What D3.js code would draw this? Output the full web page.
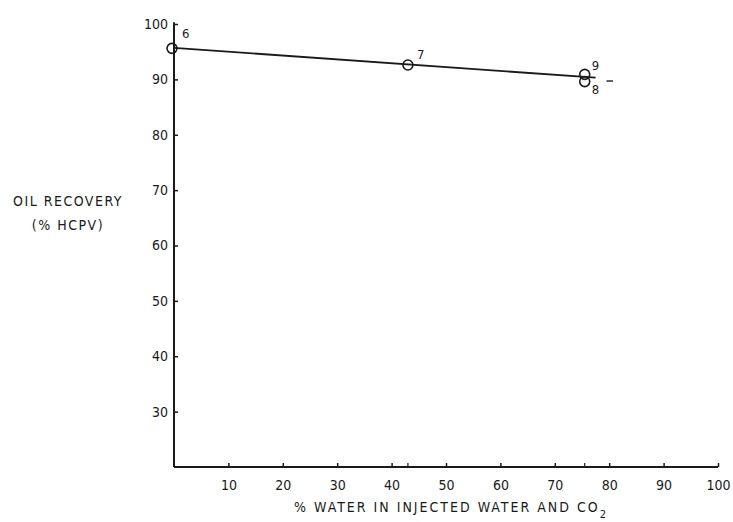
<!DOCTYPE html>
<html>
<head>
<meta charset="utf-8">
<script src="https://cdn.jsdelivr.net/npm/d3@7"></script>
<style>
  body { margin: 0; background: #fff; }
  svg text { font-family: "DejaVu Sans Condensed", "DejaVu Sans", sans-serif; fill: #1a1a1a; }
</style>
</head>
<body>
<div id="chart"></div>
<script>
// run data
const runIds = ['6', '7', '9', '8'];
const waterPct = [0, 43, 75.5, 75.5];
const oilRecovery = [95.6, 92.6, 90.9, 89.6];

// fitted trend line end points
const trendX = [0, 77.5];
const trendY = [95.7, 90.3];

const xTicks = [10, 20, 30, 40, 50, 60, 70, 80, 90, 100];
const yTicks = [30, 40, 50, 60, 70, 80, 90, 100];

const width = 733, height = 522;
const margin = { left: 174, right: 15, top: 24, bottom: 55 };

const svg = d3.select('#chart').append('svg')
    .attr('width', width)
    .attr('height', height);

const x = d3.scaleLinear().domain([0, 100]).range([margin.left, 718]);
const y = d3.scaleLinear().domain([20, 100]).range([467, margin.top]);

const ink = '#1a1a1a';

// x axis
const xAxis = svg.append('g')
    .attr('transform', `translate(0,${y(20)})`)
    .call(d3.axisBottom(x).tickValues(xTicks).tickSize(-4).tickPadding(13).tickFormat(d3.format('d')));
xAxis.select('.domain').attr('stroke', ink).attr('stroke-width', 2).attr('d', `M${x(0)},0H${x(100)}`);
xAxis.selectAll('.tick line').attr('stroke', ink).attr('stroke-width', 1.5);
xAxis.selectAll('.tick text').attr('font-size', 14).attr('dy', '0.71em');

// small marks under the data points
svg.append('g').selectAll('line')
    .data([43, 75.5])
    .join('line')
    .attr('x1', d => x(d)).attr('x2', d => x(d))
    .attr('y1', y(20)).attr('y2', y(20) - 4)
    .attr('stroke', ink).attr('stroke-width', 1.2);

// y axis
const yAxis = svg.append('g')
    .attr('transform', `translate(${x(0)},0)`)
    .call(d3.axisRight(y).tickValues(yTicks).tickSize(4).tickFormat(d3.format('d')));
yAxis.select('.domain').attr('stroke', ink).attr('stroke-width', 2).attr('d', `M0,${y(100.3)}V${y(20)}`);
yAxis.selectAll('.tick line').attr('stroke', ink).attr('stroke-width', 1.5);
yAxis.selectAll('.tick text')
    .attr('x', -6)
    .attr('text-anchor', 'end')
    .attr('font-size', 14);

// trend line
const line = d3.line().x(d => x(d[0])).y(d => y(d[1]));
svg.append('path')
    .datum(d3.zip(trendX, trendY))
    .attr('d', line)
    .attr('fill', 'none')
    .attr('stroke', ink)
    .attr('stroke-width', 1.8);

// run markers
const pts = runIds.map((id, i) => ({ id, x: waterPct[i], y: oilRecovery[i] }));
svg.append('g').selectAll('circle')
    .data(pts)
    .join('circle')
    .attr('cx', d => x(d.x) - (d.x === 0 ? 2 : 0))
    .attr('cy', d => y(d.y))
    .attr('r', 5)
    .attr('fill', 'none')
    .attr('stroke', ink)
    .attr('stroke-width', 1.6);

const labelOffset = { '6': [8, -10], '7': [9, -6], '9': [7, -4], '8': [7, 12] };
svg.append('g').selectAll('text')
    .data(pts)
    .join('text')
    .attr('x', d => x(d.x) + labelOffset[d.id][0])
    .attr('y', d => y(d.y) + labelOffset[d.id][1])
    .attr('font-size', 13)
    .text(d => d.id);

// small dash right of 8/9
svg.append('line')
    .attr('x1', x(79.5)).attr('x2', x(80.7))
    .attr('y1', y(89.7)).attr('y2', y(89.7))
    .attr('stroke', ink).attr('stroke-width', 1.4);

// axis titles
svg.append('text')
    .attr('x', 68).attr('y', 206)
    .attr('text-anchor', 'middle')
    .attr('font-size', 14)
    .attr('letter-spacing', 1.5)
    .text('OIL RECOVERY');
svg.append('text')
    .attr('x', 68).attr('y', 230)
    .attr('text-anchor', 'middle')
    .attr('font-size', 14)
    .attr('letter-spacing', 1.5)
    .text('(% HCPV)');

const xt = svg.append('text')
    .attr('x', 451).attr('y', 512)
    .attr('text-anchor', 'middle')
    .attr('font-size', 14)
    .attr('letter-spacing', 2)
    .text('% WATER IN INJECTED WATER AND CO');
xt.append('tspan')
    .attr('dy', 6)
    .attr('font-size', 11)
    .text('2');
</script>
</body>
</html>
